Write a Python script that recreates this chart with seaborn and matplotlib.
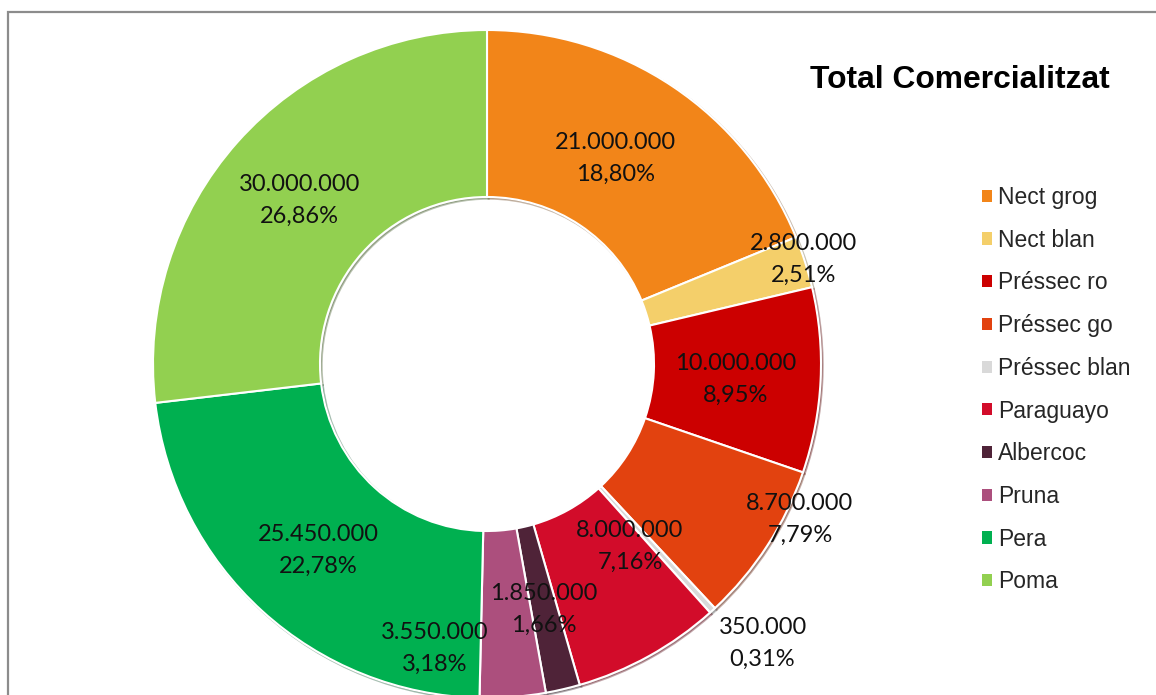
import numpy as np
import matplotlib
matplotlib.use("Agg")
import matplotlib.pyplot as plt
from matplotlib.patches import Patch, Rectangle
import seaborn as sns

# dades
fruites = ["Nect grog", "Nect blan", "Préssec ro", "Préssec go", "Préssec blan",
           "Paraguayo", "Albercoc", "Pruna", "Pera", "Poma"]
quilos = [21000000, 2800000, 10000000, 8700000, 350000,
          8000000, 1850000, 3550000, 25450000, 30000000]
colors = ["#F28519", "#F4CF6A", "#CC0000", "#E2420F", "#D9D9D9",
          "#D20C2A", "#4F2338", "#AC4F7D", "#00B050", "#92D050"]

# posició de les etiquetes (en unitats del radi, relatives al centre)
label_pos = [(0.386, 0.615), (0.949, 0.314), (0.743, -0.045), (0.937, -0.465),
             (0.825, -0.837), (0.428, -0.547), (0.169, -0.734), (-0.156, -0.851),
             (-0.504, -0.559), (-0.561, 0.489)]

sns.set_theme(style="white")

W, H = 1156, 695
fig = plt.figure(figsize=(W / 100, H / 100), dpi=100)
ax = fig.add_axes([0, 0, 1, 1])

cx, cy, R = 487, H - 364, 334

ax.pie(quilos, colors=colors, startangle=90, counterclock=False,
       center=(cx, cy), radius=R, frame=True,
       shadow={"ox": 1.2, "oy": -1.2, "shade": 0.6, "alpha": 0.35},
       wedgeprops=dict(width=R * 0.5, edgecolor="white", linewidth=1.5))
ax.set_xlim(0, W)
ax.set_ylim(0, H)
ax.set_aspect("equal")
ax.axis("off")

total = sum(quilos)
def fmt(v):
    return f"{v:,}".replace(",", ".")

for v, (px, py) in zip(quilos, label_pos):
    pct = f"{v / total * 100:.2f}".replace(".", ",") + "%"
    ax.text(cx + px * R, cy + py * R, f"{fmt(v)}\n{pct}",
            ha="center", va="center", fontsize=17, family="Lato",
            color="#111111", linespacing=1.63)

# títol
fig.text(960 / W, 1 - 88 / H, "Total Comercialitzat", ha="center", va="baseline",
         fontsize=22.9, fontweight="bold", family="Liberation Sans", color="black")

# llegenda
handles = [Patch(facecolor=c, edgecolor="none") for c in colors]
leg = fig.legend(handles, fruites, loc="upper left",
                 bbox_to_anchor=(982 / W, 1 - 186 / H), frameon=False,
                 prop={"family": "Liberation Sans", "size": 16.5},
                 handlelength=0.44, handleheight=0.44, handletextpad=0.27,
                 labelspacing=0.86, borderaxespad=0, borderpad=0)

# marc
fig.patches.append(Rectangle((8 / W, -0.1), 1.2, 1 - 12 / H + 0.1,
                             transform=fig.transFigure, fill=False,
                             edgecolor="#8c8c8c", linewidth=1.6, clip_on=False))

fig.savefig("out.png", dpi=100)
